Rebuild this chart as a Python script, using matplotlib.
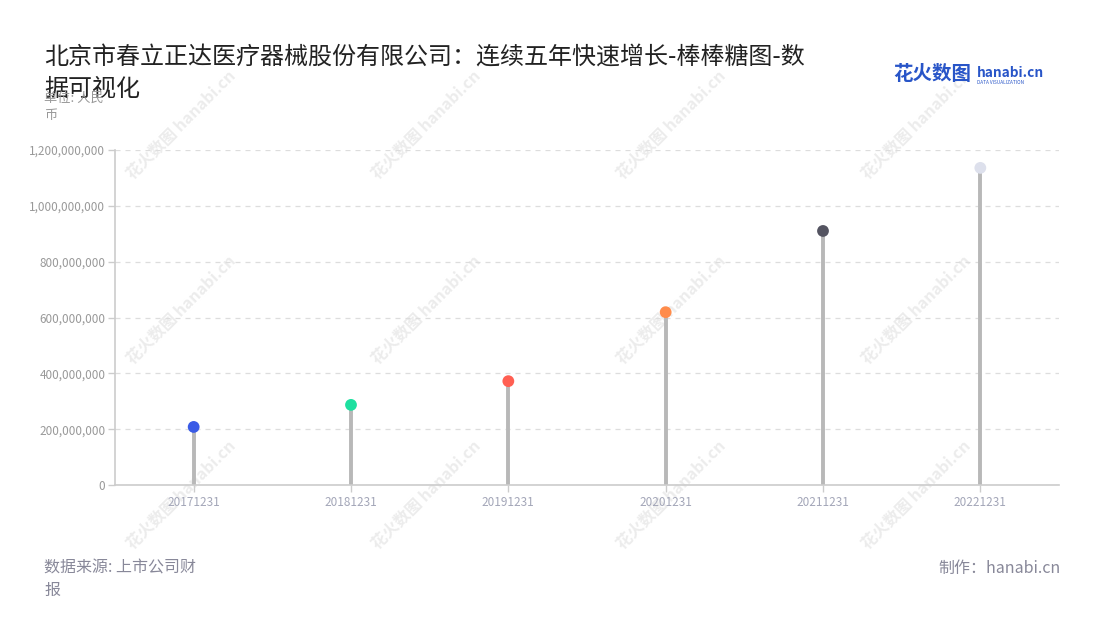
import numpy as np
import matplotlib.pyplot as plt
from matplotlib.ticker import FuncFormatter

plt.rcParams['font.family'] = ['Noto Sans CJK SC', 'DejaVu Sans']

# 报告期与数值（人民币）
dates = ['20171231', '20181231', '20191231', '20201231', '20211231', '20221231']
values = [208000000, 287000000, 372000000, 619000000, 910000000, 1136000000]
dot_colors = ['#3a5be6', '#1ee0a0', '#ff5f52', '#ff8c4b', '#545461', '#dde0ec']
yticks = [0, 200000000, 400000000, 600000000, 800000000, 1000000000, 1200000000]

fig = plt.figure(figsize=(11, 6.2), dpi=100)
ax = fig.add_axes([115 / 1100, 1 - 485 / 620, 944 / 1100, 335 / 620])
ax.set_facecolor('none')

# 水印
for wx in [133, 378, 623, 868]:
    for wy in [180, 365, 550]:
        fig.text(wx / 1100, 1 - wy / 620, '花火数图 hanabi.cn', fontsize=11.5,
                 color='#ececec', fontweight='bold', rotation=45,
                 rotation_mode='anchor', ha='left', va='baseline', zorder=-1)

x = np.arange(len(dates))
ax.vlines(x, 0, values, color='#b8b8b8', linewidth=2.8, zorder=2)
ax.scatter(x, values, s=72, c=dot_colors, zorder=3, edgecolors='none')

ax.set_xlim(-0.5, len(dates) - 0.5)
ax.set_ylim(0, 1200000000)
ax.set_xticks(x)
ax.set_xticklabels(dates)
ax.set_yticks(yticks)
ax.yaxis.set_major_formatter(FuncFormatter(lambda v, p: f'{int(v):,}'))

ax.grid(axis='y', linestyle=(0, (4, 4)), color='#dddddd', linewidth=0.9)
ax.set_axisbelow(True)
for s in ['top', 'right']:
    ax.spines[s].set_visible(False)
for s in ['left', 'bottom']:
    ax.spines[s].set_color('#cccccc')
    ax.spines[s].set_linewidth(1.2)
ax.tick_params(axis='both', colors='#cccccc', length=5, width=1)
ax.tick_params(axis='y', labelcolor='#999999', labelsize=8.5, pad=2)
ax.tick_params(axis='x', labelcolor='#a3a6b8', labelsize=8.5, pad=3)

# 标题
fig.text(44 / 1100, 1 - 65 / 620, '北京市春立正达医疗器械股份有限公司：连续五年快速增长-棒棒糖图-数',
         fontsize=17.3, color='#222222', va='baseline')
fig.text(44 / 1100, 1 - 96 / 620, '据可视化', fontsize=17.3, color='#222222', va='baseline')

# 单位
fig.text(44 / 1100, 1 - 102 / 620, '单位: 人民', fontsize=9.5, color='#999999', va='baseline')
fig.text(44 / 1100, 1 - 119 / 620, '币', fontsize=9.5, color='#999999', va='baseline')

# 标志
fig.text(893 / 1100, 1 - 80 / 620, '花火数图', fontsize=14, color='#2855c8',
         fontweight='bold', va='baseline')
fig.text(977 / 1100, 1 - 77 / 620, 'hanabi.cn', fontsize=9.8, color='#2855c8',
         fontweight='bold', va='baseline')
fig.text(977 / 1100, 1 - 83.5 / 620, 'DATA VISUALIZATION', fontsize=3.4, color='#2855c8',
         va='baseline')

# 页脚
fig.text(44 / 1100, 1 - 573 / 620, '数据来源: 上市公司财', fontsize=11.5, color='#888899', va='baseline')
fig.text(44 / 1100, 1 - 595 / 620, '报', fontsize=11.5, color='#888899', va='baseline')
fig.text(1061 / 1100, 1 - 573 / 620, '制作：hanabi.cn', fontsize=11.5, color='#888899',
         va='baseline', ha='right')

fig.savefig('out.png', dpi=100, facecolor='white')
